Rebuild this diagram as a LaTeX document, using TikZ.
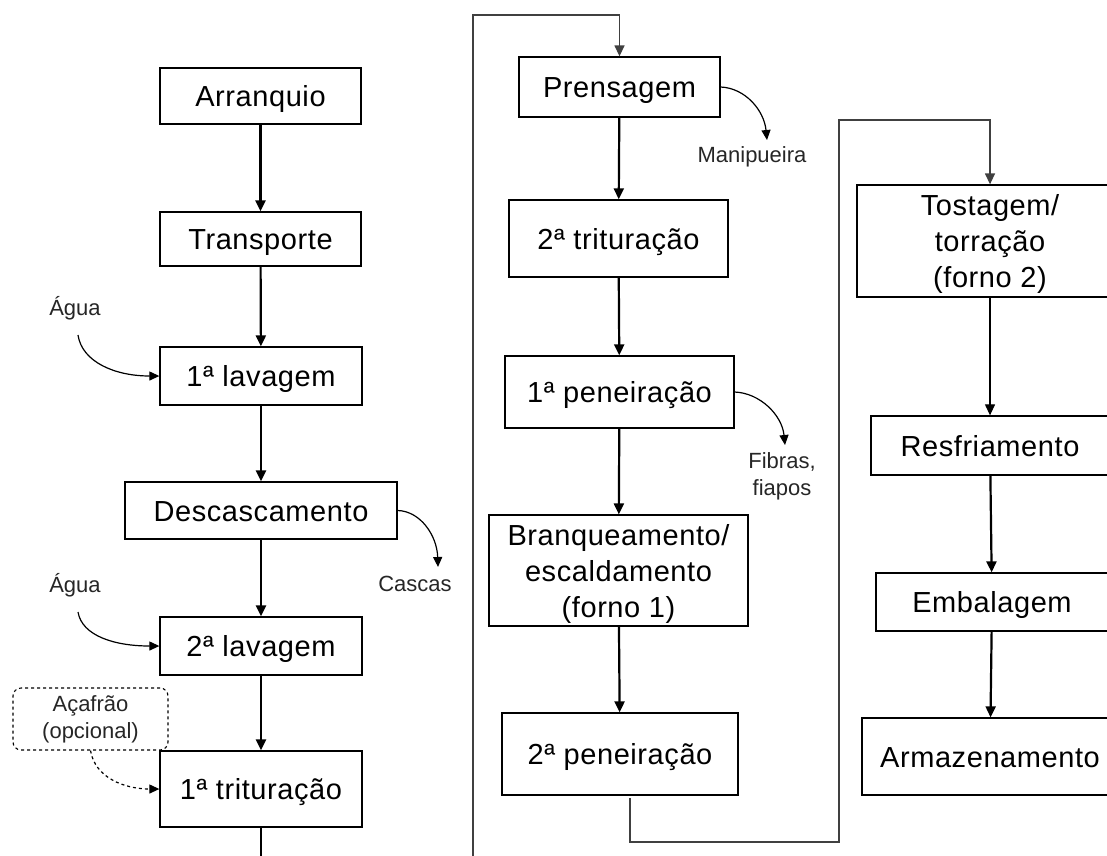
\documentclass[tikz,border=0pt]{standalone}
\usepackage{fontspec}
\setmainfont{Liberation Sans}
\newfontfamily\boxfont[LetterSpace=2]{Liberation Sans}
\usetikzlibrary{arrows.meta}
\begin{document}
\begin{tikzpicture}[x=1pt,y=-1pt,
  box/.style={draw, line width=1.3pt, fill=white, align=center, inner sep=0pt, text depth=0pt, font=\boxfont\fontsize{29}{36}\selectfont},
  one/.style={box, text height=21pt},
  flow/.style={line width=2.2pt, -{Triangle[length=11pt,width=10pt]}},
  plain/.style={line width=2.2pt},
  elbow/.style={line width=1.4pt, draw=black!75, -{Triangle[length=11pt,width=10pt]}},
  side/.style={line width=1.2pt, -{Triangle[length=10pt,width=9pt]}},
  lbl/.style={font=\fontsize{22}{27}\selectfont, align=center, inner sep=0pt, text=black!85}]
\useasboundingbox (0,0) rectangle (1107,855);
\clip (0,0) rectangle (1107,855);
% left column
\node[one, minimum width=201pt, minimum height=56pt] (arr) at (260.5,96) {Arranquio};
\node[one, minimum width=201pt, minimum height=54pt] (tra) at (260.5,239) {Transporte};
\node[one, minimum width=202pt, minimum height=58pt] (lav1) at (261,376) {1ª lavagem};
\node[one, minimum width=272pt, minimum height=57pt] (desc) at (261,510.5) {Descascamento};
\node[one, minimum width=202pt, minimum height=58pt] (lav2) at (261,646) {2ª lavagem};
\node[one, minimum width=202pt, minimum height=76pt] (tri1) at (261,789) {1ª trituração};
\node[lbl, draw, dashed, line width=1.1pt, rounded corners=8pt, minimum width=155pt, minimum height=62pt] (acaf) at (90.5,719) {Açafrão\\(opcional)};
\node[lbl] (agua1) at (75,308) {Água};
\node[lbl] (agua2) at (75,585) {Água};
\node[lbl] (casc) at (415,584) {Cascas};
% middle column
\node[one, minimum width=201pt, minimum height=60pt] (pren) at (619.5,87) {Prensagem};
\node[one, minimum width=219pt, minimum height=77pt] (tri2) at (618.5,238.5) {2ª trituração};
\node[one, minimum width=229pt, minimum height=72pt] (pen1) at (619.5,392) {1ª peneiração};
\node[box, minimum width=259pt, minimum height=111pt] (bran) at (618.5,570.5) {Branqueamento/\\escaldamento\\(forno 1)};
\node[one, minimum width=236pt, minimum height=82pt] (pen2) at (620,754) {2ª peneiração};
\node[lbl] (mani) at (752,157) {Manipueira};
\node[lbl] (fibr) at (782,476) {Fibras,\\fiapos};
% right column
\node[box, minimum width=266pt, minimum height=112pt] (tost) at (990,241) {Tostagem/\\torração\\(forno 2)};
\node[one, minimum width=238pt, minimum height=59pt] (resf) at (990,445.5) {Resfriamento};
\node[one, minimum width=232pt, minimum height=58pt] (emb) at (992,602) {Embalagem};
\node[one, minimum width=256pt, minimum height=77pt] (arm) at (990,756.5) {Armazenamento};
% main flow
\draw[flow] (arr) -- (tra);
\draw[flow] (tra) -- (lav1);
\draw[flow] (lav1) -- (desc);
\draw[flow] (desc) -- (lav2);
\draw[flow] (lav2) -- (tri1);
\coordinate (b1) at (261,856);
\draw[plain] (tri1.south) -- (b1);
\draw[flow] (pren) -- (tri2);
\draw[flow] (tri2) -- (pen1);
\draw[flow] (pen1) -- (bran);
\draw[flow] (bran) -- (pen2);
\draw[line width=1.2pt, -{Triangle[length=11pt,width=10pt]}] (tost) -- (resf);
\draw[flow] (resf) -- (emb);
\draw[flow] (emb) -- (arm);
% elbow connectors
\coordinate (m0) at (473,856);
\coordinate (m1) at (473,15);
\draw[elbow] (m0) -- (m1) -| (pren.north);
\coordinate (c0) at (630,798);
\coordinate (c1) at (630,842);
\coordinate (c2) at (839,842);
\coordinate (c3) at (839,120);
\draw[elbow] (c0) -- (c1) -- (c2) -- (c3) -| (tost.north);
% side flows
\coordinate (a1) at (78,335);
\draw[side] (a1) .. controls (82,362) and (115,376) .. (lav1.west);
\coordinate (a2) at (78,612);
\draw[side] (a2) .. controls (82,636) and (115,646) .. (lav2.west);
\coordinate (ct) at (438,567);
\draw[side] (desc.east) .. controls (420,511) and (437,535) .. (ct);
\coordinate (mt) at (767,140);
\draw[side] (pren.east) .. controls (745,88) and (764,110) .. (mt);
\coordinate (ft) at (785,445);
\draw[side] (pen1.east) .. controls (760,393) and (782,415) .. (ft);
\draw[side, dashed] (acaf.south) .. controls (95,778) and (125,789) .. (tri1.west);
\end{tikzpicture}
\end{document}
